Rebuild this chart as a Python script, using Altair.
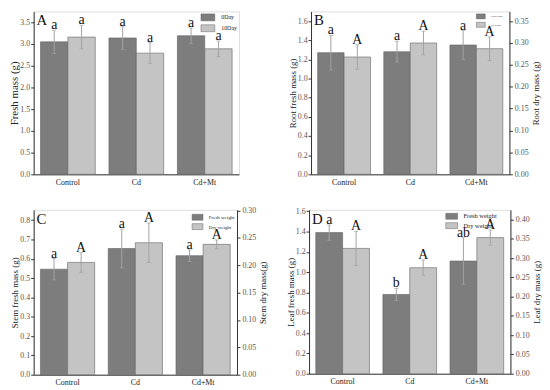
import altair as alt
import pandas as pd

FONT = "Liberation Serif"
DARK = "#7d7d7d"
LIGHT = "#c4c4c4"
EDGE = "#626262"
ERR = "#a3a3a3"
LABEL = "#555555"
TITLE = "#222222"

groups = ["Control", "Cd", "Cd+Mt"]

# Panel A (fresh mass, 0 and 10 days)
a_series = ["0Day", "10Day"]
a_day0 = [3.05, 3.14, 3.19]
a_day0_err = [0.27, 0.26, 0.18]
a_day0_sig = ["a", "a", "a"]
a_day10 = [3.16, 2.79, 2.89]
a_day10_err = [0.27, 0.24, 0.18]
a_day10_sig = ["a", "a", "a"]

fd_series = ["Fresh weight", "Dry weight"]

# Panel B (root)
b_fresh = [1.27, 1.28, 1.35]
b_fresh_err = [0.18, 0.11, 0.15]
b_fresh_sig = ["a", "a", "a"]
b_dry = [0.268, 0.300, 0.287]
b_dry_err = [0.028, 0.027, 0.027]
b_dry_sig = ["A", "A", "A"]

# Panel C (stem)
c_fresh = [0.546, 0.653, 0.616]
c_fresh_err = [0.055, 0.10, 0.03]
c_fresh_sig = ["a", "a", "a"]
c_dry = [0.205, 0.241, 0.238]
c_dry_err = [0.018, 0.036, 0.008]
c_dry_sig = ["A", "A", "A"]

# Panel D (leaf)
d_fresh = [1.39, 0.78, 1.11]
d_fresh_err = [0.075, 0.06, 0.23]
d_fresh_sig = ["a", "b", "ab"]
d_dry = [0.325, 0.275, 0.353]
d_dry_err = [0.044, 0.02, 0.02]
d_dry_sig = ["A", "A", "A"]


def frame(series, vals, errs, sigs):
    return pd.DataFrame({
        "group": groups,
        "series": series,
        "value": vals,
        "lo": [v - e for v, e in zip(vals, errs)],
        "hi": [v + e for v, e in zip(vals, errs)],
        "sig": sigs,
    })


def rect_path(w, h):
    unit = h / 2.0
    right = w / unit - 1
    return f"M-1,-1L{right:.3f},-1L{right:.3f},1L-1,1Z"


def make_legend(x, y, w, h, font_size, row_pad):
    return alt.Legend(
        title=None, orient="none", legendX=x, legendY=y, padding=0,
        symbolType=rect_path(w, h), symbolSize=h * h,
        symbolStrokeColor=EDGE, symbolStrokeWidth=0.5, symbolOpacity=1,
        labelFont=FONT, labelFontSize=font_size, labelColor=TITLE,
        labelOffset=w - h / 2 + 2.5, rowPadding=row_pad,
    )


xaxis = alt.Axis(title=None, ticks=False, labelAngle=0, labelFont=FONT,
                 labelFontSize=8, labelColor=TITLE, labelPadding=4,
                 domainColor="#333333")


def series_layer(df, series_list, scale, axis, legend, sig_size):
    base = alt.Chart(df).encode(
        x=alt.X("group:N", sort=groups,
                scale=alt.Scale(domain=groups, paddingInner=0.2, paddingOuter=0.1),
                axis=xaxis),
        xOffset=alt.XOffset("series:N", scale=alt.Scale(domain=series_list)),
    )
    bars = base.mark_bar(stroke=EDGE, strokeWidth=0.6).encode(
        y=alt.Y("value:Q", scale=scale, axis=axis),
        color=alt.Color("series:N",
                        scale=alt.Scale(domain=series_list, range=[DARK, LIGHT]),
                        legend=legend),
    )
    err = base.mark_rule(color=ERR, strokeWidth=1).encode(
        y=alt.Y("lo:Q", scale=scale, axis=axis), y2="hi:Q")
    cap_hi = base.mark_tick(color=ERR, size=4, thickness=1).encode(
        y=alt.Y("hi:Q", scale=scale, axis=axis))
    cap_lo = base.mark_tick(color=ERR, size=4, thickness=1).encode(
        y=alt.Y("lo:Q", scale=scale, axis=axis))
    txt = base.mark_text(baseline="alphabetic", dy=-1, font=FONT, fontSize=sig_size,
                         color="#111111").encode(
        y=alt.Y("hi:Q", scale=scale, axis=axis), text="sig:N")
    return alt.layer(bars, err, cap_hi, cap_lo, txt)


def left_axis(title, values, fmt, title_size=9):
    return alt.Axis(title=title, orient="left", values=values, format=fmt,
                    grid=False, tickSize=3, tickColor="#333333", domainColor="#333333",
                    labelFont=FONT, labelFontSize=8, labelColor=LABEL, labelPadding=1,
                    titleFont=FONT, titleFontSize=title_size, titleFontWeight="normal",
                    titleColor=TITLE, titlePadding=0)


def right_axis(title, values, fmt):
    return alt.Axis(title=title, orient="right", values=values, format=fmt,
                    grid=False, tickSize=3, tickColor="#333333", domainColor="#333333",
                    labelFont=FONT, labelFontSize=8, labelColor=LABEL, labelPadding=2,
                    titleFont=FONT, titleFontSize=9, titleFontWeight="normal",
                    titleColor=TITLE, titlePadding=3, titleAngle=270,
                    titleBaseline="top")


def panel_letter(letter):
    return alt.Chart(pd.DataFrame({"t": [letter]})).mark_text(
        font=FONT, fontSize=15, align="left", baseline="top", color="#111111"
    ).encode(x=alt.value(3), y=alt.value(2), text="t:N")


# ---- Panel A
dfA = pd.concat([frame("0Day", a_day0, a_day0_err, a_day0_sig),
                 frame("10Day", a_day10, a_day10_err, a_day10_sig)])
scaleA = alt.Scale(domain=[0, 3.75], nice=False, zero=True)
A = alt.layer(
    series_layer(dfA, a_series, scaleA,
                 left_axis("Fresh mass (g)", [0, 0.5, 1, 1.5, 2, 2.5, 3, 3.5], ".1f", 11),
                 make_legend(169, 2, 14, 7, 6, 1), 14),
    panel_letter("A"),
).properties(width=208, height=165)


def dual_panel(fresh, fresh_err, fresh_sig, dry, dry_err, dry_sig,
               ldom, lvals, ltitle, rdom, rvals, rtitle, legend, letter, w, h):
    dff = frame("Fresh weight", fresh, fresh_err, fresh_sig)
    dfd = frame("Dry weight", dry, dry_err, dry_sig)
    lf = series_layer(dff, fd_series, alt.Scale(domain=ldom, nice=False),
                      left_axis(ltitle, lvals, ".1f"), legend, 14)
    ld = series_layer(dfd, fd_series, alt.Scale(domain=rdom, nice=False),
                      right_axis(rtitle, rvals, ".2f"), legend, 14)
    return alt.layer(lf, ld, panel_letter(letter)).resolve_scale(
        y="independent").properties(width=w, height=h)


B = dual_panel(b_fresh, b_fresh_err, b_fresh_sig, b_dry, b_dry_err, b_dry_sig,
               [0, 1.70], [0, 0.2, 0.4, 0.6, 0.8, 1.0, 1.2, 1.4, 1.6], "Root fresh mass (g)",
               [0, 0.372], [0, 0.05, 0.1, 0.15, 0.2, 0.25, 0.3, 0.35], "Root dry mass (g)",
               make_legend(167, 2, 9, 5, 2.3, 0.5), "B", 201, 165)

C = dual_panel(c_fresh, c_fresh_err, c_fresh_sig, c_dry, c_dry_err, c_dry_sig,
               [0, 0.853], [0, 0.1, 0.2, 0.3, 0.4, 0.5, 0.6, 0.7, 0.8], "Stem fresh mass (g)",
               [0, 0.301], [0, 0.05, 0.1, 0.15, 0.2, 0.25, 0.3], "Stem dry mass(g)",
               make_legend(160, 4, 11, 6, 5, 0.5), "C", 206, 167)

D = dual_panel(d_fresh, d_fresh_err, d_fresh_sig, d_dry, d_dry_err, d_dry_sig,
               [0, 1.614], [0, 0.2, 0.4, 0.6, 0.8, 1.0, 1.2, 1.4, 1.6], "Leaf fresh mass (g)",
               [0, 0.425], [0, 0.05, 0.1, 0.15, 0.2, 0.25, 0.3, 0.35, 0.4], "Leaf dry mass (g)",
               make_legend(138, 3, 12, 6, 6.5, 0.5), "D", 204, 166)

row1 = alt.hconcat(A, B, spacing=48).resolve_scale(color="independent", xOffset="independent")
row2 = alt.hconcat(C, D, spacing=17).resolve_scale(color="independent", xOffset="independent")

chart = alt.vconcat(row1, row2, spacing=19).resolve_scale(
    color="independent", xOffset="independent"
).properties(
    padding={"left": 0, "top": 0, "right": 0, "bottom": 0}
).configure_view(stroke="#333333", strokeWidth=1).configure_axis(
    labelColor=LABEL, titleColor=TITLE
).configure(background="white")

chart.save("out.html", embed_options={"renderer": "svg", "actions": False})
